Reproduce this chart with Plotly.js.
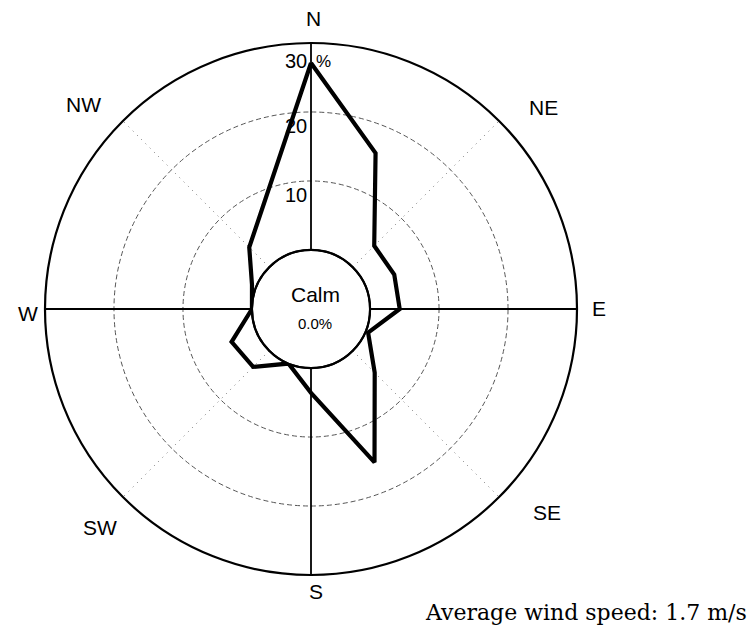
<!DOCTYPE html>
<html><head><meta charset="utf-8">
<script src="https://cdn.plot.ly/plotly-3.0.1.min.js"></script>
<style>body{margin:0;background:#fff}#chart{width:754px;height:643px}</style>
</head><body><div id="chart"></div>
<script>
// ---- data ----
const directions = ['N','NNE','NE','ENE','E','ESE','SE','SSE','S','SSW','SW','WSW','W','WNW','NW','NNW'];
const frequency = [27.1, 15.9, 4.4, 4.5, 4.3, 0.4, 4.5, 15.5, 3.6, 0.0, 3.3, 3.9, 0.0, 0.7, 4.1, 8.7];
const radialTickValues = [10, 20, 30];
const radialTickText = ['10', '20', '30'];
const compassLabels = ['N','NE','E','SE','S','SW','W','NW'];
const calmLabel = 'Calm';
const calmValue = '0.0%';
const avgSpeedText = 'Average wind speed: 1.7 m/s';

// ---- geometry ----
const W = 754, H = 643;
const cx = 311, cy = 309, R = 266, HOLE = 0.222;
const px = (x, y) => ({x: x / W, y: 1 - y / H});
const dom = {x: [(cx - R) / W, (cx + R) / W], y: [1 - (cy + R) / H, 1 - (cy - R) / H]};
const step = 360 / directions.length;
const theta = directions.map((d, i) => i * step);

const rClosed = frequency.concat([frequency[0]]);
const tClosed = theta.concat([theta[0]]);

const FONT = 'Liberation Sans, Arial, sans-serif';

const traces = [
  {type: 'scatterpolar', r: [], theta: [], subplot: 'polar', showlegend: false, hoverinfo: 'skip'},
  {type: 'scatterpolar', r: rClosed, theta: tClosed, subplot: 'polar2', mode: 'lines',
   line: {color: '#000', width: 4.2}, showlegend: false, hoverinfo: 'skip'}
];

const radialRange = [0, 30];

const layout = {
  width: W, height: H,
  margin: {l: 0, r: 0, t: 0, b: 0},
  paper_bgcolor: '#fff',
  showlegend: false,
  polar: {
    domain: dom, hole: HOLE, bgcolor: 'rgba(0,0,0,0)',
    angularaxis: {rotation: 90, direction: 'clockwise', thetaunit: 'degrees',
      tickmode: 'array', tickvals: [45, 135, 225, 315], showticklabels: false, ticks: '',
      showgrid: true, gridcolor: '#777', gridwidth: 1, griddash: '1px,5px', showline: false},
    radialaxis: {range: radialRange, tickmode: 'array', tickvals: radialTickValues.slice(0, 2),
      showticklabels: false, ticks: '', showline: false, showgrid: true,
      gridcolor: '#555', gridwidth: 1, griddash: '5px,3px'}
  },
  polar2: {
    domain: dom, hole: HOLE, bgcolor: 'rgba(0,0,0,0)',
    angularaxis: {rotation: 90, direction: 'clockwise', thetaunit: 'degrees',
      tickmode: 'array', tickvals: [0, 90, 180, 270], showticklabels: false, ticks: '',
      showgrid: true, gridcolor: '#000', gridwidth: 1.8, showline: true, linecolor: '#000', linewidth: 2.2},
    radialaxis: {range: radialRange, showticklabels: false, ticks: '', showline: false, showgrid: false}
  },
  shapes: [{
    type: 'circle', xref: 'paper', yref: 'paper', layer: 'above',
    x0: (cx - R * HOLE) / W, x1: (cx + R * HOLE) / W,
    y0: 1 - (cy + R * HOLE) / H, y1: 1 - (cy - R * HOLE) / H,
    line: {color: '#000', width: 2}, fillcolor: 'rgba(0,0,0,0)'
  }],
  annotations: []
};

// compass labels
const compassPos = [[313, 19], [543, 108], [599, 308], [547, 512], [316, 591], [100, 527], [28, 313], [83, 104]];
compassLabels.forEach((t, i) => {
  const p = px(compassPos[i][0], compassPos[i][1]);
  layout.annotations.push({text: t, x: p.x, y: p.y, xref: 'paper', yref: 'paper', showarrow: false,
    xanchor: 'center', yanchor: 'middle', font: {family: FONT, size: 21, color: '#000'}});
});

// radial tick labels (placed just inside each ring, left of the north spoke)
const ringPx = v => R * HOLE + (v - radialRange[0]) / (radialRange[1] - radialRange[0]) * R * (1 - HOLE);
radialTickValues.forEach((v, i) => {
  const p = px(cx - 2, cy - ringPx(v) + (i === 2 ? 18 : 14));
  layout.annotations.push({text: radialTickText[i], x: p.x, y: p.y, xref: 'paper', yref: 'paper',
    showarrow: false, xanchor: 'right', yanchor: 'middle', font: {family: FONT, size: 20, color: '#000'}});
});
{
  const p = px(cx + 3, cy - ringPx(30) + 18);
  layout.annotations.push({text: '%', x: p.x, y: p.y, xref: 'paper', yref: 'paper', showarrow: false,
    xanchor: 'left', yanchor: 'middle', font: {family: FONT, size: 17, color: '#000'}});
}

// calm text
{
  const p1 = px(cx + 4, cy - 15), p2 = px(cx + 4, cy + 14);
  layout.annotations.push({text: calmLabel, x: p1.x, y: p1.y, xref: 'paper', yref: 'paper', showarrow: false,
    xanchor: 'center', yanchor: 'middle', font: {family: FONT, size: 21, color: '#000'}});
  layout.annotations.push({text: calmValue, x: p2.x, y: p2.y, xref: 'paper', yref: 'paper', showarrow: false,
    xanchor: 'center', yanchor: 'middle', font: {family: FONT, size: 15, color: '#000'}});
}

// average wind speed
{
  const p = px(749, 612);
  layout.annotations.push({text: avgSpeedText, x: p.x, y: p.y, xref: 'paper', yref: 'paper', showarrow: false,
    xanchor: 'right', yanchor: 'middle', font: {family: 'DejaVu Serif, serif', size: 22, color: '#000'}});
}

Plotly.newPlot('chart', traces, layout, {staticPlot: true, displayModeBar: false});
</script>
</body></html>
